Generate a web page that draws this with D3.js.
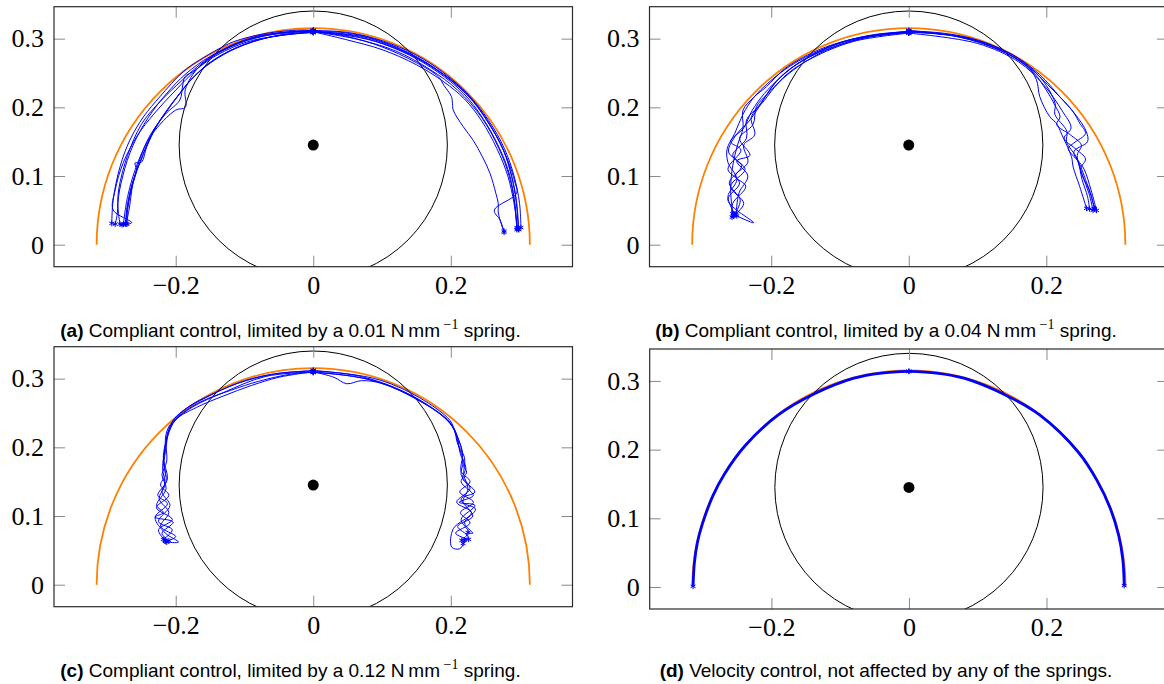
<!DOCTYPE html>
<html>
<head>
<meta charset="utf-8">
<script src="https://cdn.jsdelivr.net/npm/d3@7"></script>
<style>
  body { margin: 0; background: #fff; }
  svg { display: block; }
  .tick line { stroke: #8a8a8a; stroke-width: 1; }
  .caption { font-family: "Liberation Sans", Arial, sans-serif; font-size: 19px; fill: #000; white-space: pre; }
</style>
</head>
<body>
<svg id="chart" width="1164" height="684"></svg>
<script>
// axis setup, same for all four plots
var xDomain = [-0.377, 0.377];
var yDomain = [-0.032, 0.3465];
var xTicks = [-0.2, 0, 0.2];
var yTicks = [0, 0.1, 0.2, 0.3];

// reference path (orange half circle) and the obstacle circle
var refRadius = 0.315;
var obstacleCentre = [0, 0.145];
var obstacleRadius = 0.195;

var captionTags = ["(a)", "(b)", "(c)", "(d)"];
var captionBodies = [
    " Compliant control, limited by a 0.01 N\u2009mm",
    " Compliant control, limited by a 0.04 N\u2009mm",
    " Compliant control, limited by a 0.12 N\u2009mm",
    " Velocity control, not affected by any of the springs."
];
var captionExponents = ["\u22121", "\u22121", "\u22121", ""];
var captionTails = [" spring.", " spring.", " spring.", ""];

// measured trajectories, each runs from the top waypoint to an end point
var pathsA = [
    [[0,0.312],[-0.019,0.3125],[-0.068,0.3077],[-0.116,0.2955],[-0.1405,0.2834],[-0.165,0.269],[-0.189,0.252],[-0.223,0.2155],[-0.247,0.186],[-0.2666,0.1524],[-0.281,0.1135],[-0.291,0.065],[-0.293,0.031]],
    [[0,0.311],[-0.05,0.308],[-0.10,0.297],[-0.15,0.274],[-0.185,0.249],[-0.215,0.218],[-0.240,0.185],[-0.262,0.145],[-0.277,0.10],[-0.284,0.06],[-0.281,0.03]],
    [[0,0.309],[-0.04,0.306],[-0.08,0.298],[-0.12,0.283],[-0.150,0.265],[-0.178,0.240],[-0.194,0.220],[-0.2085,0.201],[-0.228,0.172],[-0.242,0.1427],[-0.250,0.120],[-0.259,0.119],[-0.257,0.109],[-0.264,0.0845],[-0.270,0.055],[-0.2725,0.030]],
    [[0,0.309],[-0.045,0.305],[-0.085,0.297],[-0.122,0.282],[-0.152,0.264],[-0.179,0.239],[-0.195,0.219],[-0.209,0.2],[-0.229,0.171],[-0.243,0.142],[-0.251,0.121],[-0.258,0.105],[-0.265,0.083],[-0.271,0.054],[-0.273,0.031]],
    [[0,0.31],[-0.05,0.305],[-0.1,0.291],[-0.14,0.271],[-0.172,0.246],[-0.196,0.218],[-0.212,0.197],[-0.23,0.17],[-0.244,0.141],[-0.252,0.12],[-0.259,0.1],[-0.266,0.075],[-0.27,0.05],[-0.271,0.03]],
    [[0,0.312],[-0.06,0.307],[-0.11,0.293],[-0.145,0.275],[-0.17,0.255],[-0.20,0.225],[-0.232,0.19],[-0.255,0.16],[-0.276,0.12],[-0.288,0.08],[-0.291,0.0505],[-0.264,0.032],[-0.278,0.029]],
    [[0,0.311],[-0.07,0.304],[-0.12,0.288],[-0.165,0.26],[-0.186,0.226],[-0.186,0.200],[-0.20,0.196],[-0.235,0.16],[-0.255,0.12],[-0.27,0.07],[-0.276,0.03]],
    [[0,0.312],[-0.08,0.304],[-0.13,0.285],[-0.16,0.266],[-0.19,0.24],[-0.226,0.205],[-0.25,0.175],[-0.27,0.13],[-0.283,0.08],[-0.285,0.045],[-0.288,0.03]],
    [[0,0.31],[-0.09,0.297],[-0.14,0.276],[-0.175,0.252],[-0.1866,0.2446],[-0.19,0.231],[-0.194,0.2107],[-0.215,0.19],[-0.238,0.158],[-0.252,0.125],[-0.262,0.09],[-0.268,0.05],[-0.272,0.031]],
    [[0,0.312],[0.05,0.309],[0.10,0.297],[0.15,0.276],[0.19,0.250],[0.225,0.219],[0.255,0.181],[0.278,0.140],[0.292,0.10],[0.300,0.06],[0.302,0.025]],
    [[0,0.309],[0.029,0.310],[0.0777,0.3028],[0.1407,0.2786],[0.1843,0.252],[0.2231,0.2204],[0.2522,0.1815],[0.2764,0.1378],[0.2886,0.099],[0.2948,0.0651],[0.2982,0.0224]],
    [[0,0.31],[0.035,0.308],[0.08,0.301],[0.142,0.277],[0.186,0.25],[0.224,0.218],[0.253,0.18],[0.277,0.137],[0.289,0.098],[0.2955,0.064],[0.299,0.022]],
    [[0,0.31],[0.04,0.306],[0.09,0.296],[0.14,0.276],[0.18,0.252],[0.218,0.221],[0.248,0.182],[0.272,0.138],[0.286,0.1],[0.293,0.06],[0.296,0.022]],
    [[0,0.31],[0.06,0.300],[0.12,0.282],[0.17,0.255],[0.21,0.225],[0.245,0.185],[0.27,0.14],[0.285,0.10],[0.293,0.06],[0.296,0.025]],
    [[0,0.311],[0.05,0.303],[0.10,0.288],[0.15,0.265],[0.182,0.2446],[0.190,0.232],[0.201,0.2155],[0.2025,0.205],[0.2035,0.196],[0.218,0.172],[0.2326,0.152],[0.246,0.128],[0.257,0.104],[0.2655,0.075],[0.269,0.060],[0.2692,0.046],[0.2775,0.018]],
    [[0,0.311],[0.07,0.302],[0.14,0.277],[0.19,0.247],[0.23,0.212],[0.26,0.17],[0.282,0.125],[0.2935,0.09],[0.2958,0.0748],[0.2633,0.0505],[0.2716,0.036],[0.2774,0.020]],
    [[0,0.31],[0.05,0.298],[0.10,0.284],[0.15,0.262],[0.19,0.237],[0.22,0.212],[0.245,0.18],[0.267,0.14],[0.283,0.1],[0.292,0.06],[0.297,0.024]]
];

var pathsB = [
    [[0,0.310],[-0.05,0.306],[-0.10,0.294],[-0.15,0.273],[-0.18,0.255],[-0.205,0.235],[-0.225,0.215],[-0.241,0.19],[-0.253,0.162],[-0.264,0.14],[-0.263,0.12],[-0.250,0.095],[-0.263,0.07],[-0.253,0.045]],
    [[0,0.309],[-0.07,0.300],[-0.13,0.28],[-0.17,0.258],[-0.195,0.235],[-0.212,0.2106],[-0.22,0.20],[-0.236,0.1815],[-0.236,0.155],[-0.256,0.13],[-0.238,0.11],[-0.259,0.085],[-0.24,0.06],[-0.255,0.042]],
    [[0,0.308],[-0.08,0.296],[-0.14,0.272],[-0.175,0.25],[-0.1997,0.2252],[-0.207,0.218],[-0.2215,0.201],[-0.2265,0.175],[-0.246,0.155],[-0.231,0.13],[-0.25,0.122],[-0.234,0.10],[-0.247,0.075],[-0.251,0.044]],
    [[0.0,0.311],[-0.05,0.305],[-0.11,0.29],[-0.155,0.268],[-0.185,0.245],[-0.21,0.22],[-0.228,0.195],[-0.24,0.17],[-0.259,0.15],[-0.244,0.138],[-0.263,0.11],[-0.246,0.09],[-0.263,0.065],[-0.2255,0.032],[-0.250,0.042]],
    [[0,0.31],[-0.06,0.302],[-0.12,0.283],[-0.16,0.26],[-0.19,0.235],[-0.21,0.21],[-0.229,0.185],[-0.224,0.16],[-0.24,0.145],[-0.234,0.12],[-0.252,0.1],[-0.237,0.085],[-0.256,0.06],[-0.257,0.04]],
    [[0,0.31],[-0.07,0.302],[-0.12,0.288],[-0.155,0.272],[-0.183,0.254],[-0.207,0.230],[-0.225,0.215],[-0.241,0.196],[-0.241,0.17],[-0.249,0.145],[-0.256,0.115],[-0.259,0.08],[-0.256,0.045]],
    [[0,0.309],[-0.09,0.297],[-0.145,0.273],[-0.18,0.25],[-0.2,0.228],[-0.215,0.205],[-0.232,0.18],[-0.251,0.16],[-0.262,0.135],[-0.243,0.115],[-0.261,0.09],[-0.245,0.065],[-0.254,0.043]],
    [[0,0.311],[0.05,0.308],[0.10,0.298],[0.15,0.277],[0.18,0.255],[0.20,0.232],[0.213,0.205],[0.2124,0.19],[0.23,0.165],[0.2294,0.15],[0.245,0.125],[0.252,0.095],[0.26,0.07],[0.263,0.052]],
    [[0,0.309],[0.06,0.305],[0.12,0.288],[0.17,0.262],[0.1857,0.24],[0.1905,0.2155],[0.2051,0.1863],[0.2148,0.1767],[0.2227,0.16],[0.2367,0.128],[0.239,0.1135],[0.2487,0.0844],[0.2585,0.053]],
    [[0,0.31],[0.07,0.303],[0.13,0.285],[0.175,0.258],[0.21,0.225],[0.238,0.195],[0.2487,0.1767],[0.257,0.162],[0.24,0.148],[0.232,0.14],[0.247,0.12],[0.257,0.095],[0.266,0.07],[0.27,0.052]],
    [[0,0.312],[0.08,0.302],[0.14,0.28],[0.18,0.252],[0.2,0.225],[0.2124,0.2034],[0.22,0.186],[0.215,0.175],[0.235,0.16],[0.251,0.145],[0.245,0.13],[0.253,0.1],[0.262,0.075],[0.268,0.05]],
    [[0,0.311],[0.09,0.3],[0.15,0.277],[0.19,0.248],[0.22,0.215],[0.242,0.19],[0.258,0.165],[0.26,0.15],[0.24,0.135],[0.255,0.11],[0.265,0.08],[0.273,0.05]],
    [[0,0.308],[0.1,0.293],[0.16,0.266],[0.196,0.233],[0.223,0.195],[0.236,0.17],[0.226,0.155],[0.242,0.14],[0.257,0.125],[0.25,0.11],[0.262,0.08],[0.27,0.053]]
];

var pathsC = [
    [[0,0.311],[-0.05,0.308],[-0.1,0.297],[-0.15,0.276],[-0.18,0.26],[-0.2036,0.239],[-0.2133,0.2222],[-0.2157,0.198],[-0.218,0.1785],[-0.215,0.16],[-0.222,0.145],[-0.21,0.13],[-0.228,0.112],[-0.205,0.095],[-0.225,0.08],[-0.2157,0.0645]],
    [[0,0.309],[-0.03,0.307],[-0.08,0.296],[-0.12,0.283],[-0.16,0.268],[-0.19,0.25],[-0.208,0.23],[-0.214,0.2],[-0.217,0.175],[-0.214,0.15],[-0.226,0.13],[-0.212,0.118],[-0.230,0.098],[-0.215,0.075],[-0.196,0.062],[-0.213,0.062]],
    [[0,0.31],[-0.05,0.302],[-0.09,0.29],[-0.13,0.275],[-0.17,0.258],[-0.2,0.24],[-0.212,0.215],[-0.218,0.185],[-0.212,0.155],[-0.22,0.135],[-0.2084,0.1154],[-0.225,0.092],[-0.205,0.08],[-0.218,0.066]],
    [[0,0.312],[-0.06,0.306],[-0.11,0.293],[-0.155,0.273],[-0.19,0.253],[-0.205,0.237],[-0.214,0.21],[-0.213,0.18],[-0.22,0.16],[-0.214,0.14],[-0.2278,0.1154],[-0.218,0.105],[-0.2303,0.0984],[-0.2036,0.0911],[-0.22,0.075],[-0.21,0.064]],
    [[0,0.31],[-0.07,0.303],[-0.13,0.28],[-0.175,0.259],[-0.2,0.24],[-0.21,0.225],[-0.216,0.195],[-0.219,0.17],[-0.216,0.145],[-0.224,0.125],[-0.21,0.105],[-0.222,0.085],[-0.2,0.07],[-0.215,0.063]],
    [[0,0.311],[0.05,0.307],[0.1,0.297],[0.155,0.272],[0.199,0.239],[0.2061,0.2222],[0.2159,0.198],[0.2182,0.1737],[0.2231,0.164],[0.215,0.15],[0.2327,0.13],[0.212,0.12],[0.2352,0.1154],[0.215,0.095],[0.2255,0.0766],[0.2159,0.0645]],
    [[0,0.31],[0.03,0.302],[0.0486,0.2926],[0.07,0.297],[0.1,0.293],[0.15,0.27],[0.19,0.244],[0.205,0.225],[0.212,0.2],[0.218,0.18],[0.215,0.16],[0.228,0.14],[0.2086,0.1202],[0.23,0.105],[0.2036,0.0815],[0.2013,0.0547],[0.2133,0.0524],[0.22,0.065]],
    [[0,0.309],[0.06,0.303],[0.11,0.29],[0.16,0.265],[0.195,0.24],[0.208,0.22],[0.214,0.19],[0.222,0.17],[0.217,0.155],[0.235,0.135],[0.215,0.125],[0.232,0.1],[0.21,0.085],[0.225,0.07],[0.218,0.06]],
    [[0,0.312],[0.07,0.303],[0.13,0.282],[0.175,0.256],[0.2,0.235],[0.21,0.215],[0.217,0.19],[0.215,0.165],[0.228,0.15],[0.213,0.135],[0.233,0.12],[0.214,0.105],[0.228,0.09],[0.207,0.075],[0.226,0.066]],
    [[0,0.31],[0.08,0.299],[0.14,0.276],[0.185,0.248],[0.204,0.228],[0.21,0.205],[0.22,0.185],[0.219,0.16],[0.225,0.14],[0.218,0.12],[0.236,0.11],[0.22,0.09],[0.232,0.075],[0.225,0.076]]
];

var pathsD = [
    [[0,0.314],[-0.04,0.3115],[-0.08,0.304],[-0.1375,0.2813],[-0.19,0.2505],[-0.238,0.206],[-0.268,0.165],[-0.285,0.133],[-0.3,0.093],[-0.3076,0.065],[-0.312,0.035],[-0.3139,0.001]],
    [[0,0.314],[0.04,0.3115],[0.08,0.304],[0.1395,0.2799],[0.19,0.2505],[0.2464,0.1962],[0.273,0.156],[0.293,0.114],[0.305,0.075],[0.311,0.04],[0.313,0.002]]
];

// layout of the four sub-figures
var plotW = 518.5, plotH = 260, tickLen = 11;
var panels = [
    { id: "a", left: 54,    top: 6.7,   paths: pathsA, lineWidth: 1, capX: 290.5, capY: 337 },
    { id: "b", left: 649.5, top: 6.7,   paths: pathsB, lineWidth: 1, capX: 886,   capY: 337 },
    { id: "c", left: 54,    top: 346.7, paths: pathsC, lineWidth: 1, capX: 290.5, capY: 677 },
    { id: "d", left: 649.7, top: 349,   paths: pathsD, lineWidth: 2.8, capX: 886,   capY: 677 }
];

var svg = d3.select("#chart");

var x = d3.scaleLinear().domain(xDomain).range([0, plotW]);
var y = d3.scaleLinear().domain(yDomain).range([plotH, 0]);

var trialLine = d3.line()
    .x(d => x(d[0]))
    .y(d => y(d[1]))
    .curve(d3.curveCatmullRom.alpha(0.5));

var tickLabel = d => d === 0 ? "0" : d3.format(".1f")(d);
var star = d3.symbol().type(d3.symbolAsterisk || d3.symbolCross).size(22);

panels.forEach((p, i) => {
    var g = svg.append("g").attr("transform", "translate(" + p.left + "," + p.top + ")");

    var clipId = "clip-" + p.id;
    g.append("clipPath").attr("id", clipId)
        .append("rect").attr("width", plotW).attr("height", plotH);

    var plot = g.append("g").attr("clip-path", "url(#" + clipId + ")");

    // orange reference half circle
    var ref = d3.path();
    ref.arc(x(0), y(0), x(refRadius) - x(0), Math.PI, 2 * Math.PI);
    plot.append("path")
        .attr("d", ref.toString())
        .attr("fill", "none")
        .attr("stroke", "#ff7f00")
        .attr("stroke-width", 1.8);

    // obstacle
    plot.append("circle")
        .attr("cx", x(obstacleCentre[0]))
        .attr("cy", y(obstacleCentre[1]))
        .attr("r", x(obstacleRadius) - x(0))
        .attr("fill", "none")
        .attr("stroke", "#000")
        .attr("stroke-width", 1);

    plot.append("circle")
        .attr("cx", x(obstacleCentre[0]))
        .attr("cy", y(obstacleCentre[1]))
        .attr("r", 5.5)
        .attr("fill", "#000");

    plot.selectAll(".trial")
        .data(p.paths)
        .join("path")
        .classed("trial", true)
        .attr("d", trialLine)
        .attr("fill", "none")
        .attr("stroke", "#0000ff")
        .attr("stroke-width", p.lineWidth)
        .attr("stroke-linejoin", "round");

    var ends = p.paths.flatMap(path => [path[0], path[path.length - 1]]);
    plot.selectAll(".mark")
        .data(ends)
        .join("path")
        .classed("mark", true)
        .attr("transform", d => "translate(" + x(d[0]) + "," + y(d[1]) + ")")
        .attr("d", star)
        .attr("fill", "none")
        .attr("stroke", "#0000ff")
        .attr("stroke-width", 1);

    // ticks on all four sides, pointing inwards
    g.append("g")
        .attr("transform", "translate(0," + plotH + ")")
        .call(d3.axisBottom(x).tickValues(xTicks).tickSize(-tickLen).tickPadding(9).tickFormat(tickLabel))
        .call(a => a.select(".domain").remove());
    g.append("g")
        .call(d3.axisTop(x).tickValues(xTicks).tickSize(-tickLen).tickFormat(""))
        .call(a => a.select(".domain").remove());
    g.append("g")
        .call(d3.axisLeft(y).tickValues(yTicks).tickSize(-tickLen).tickPadding(10).tickFormat(tickLabel))
        .call(a => a.select(".domain").remove());
    g.append("g")
        .attr("transform", "translate(" + plotW + ",0)")
        .call(d3.axisRight(y).tickValues(yTicks).tickSize(-tickLen).tickFormat(""))
        .call(a => a.select(".domain").remove());

    g.selectAll(".tick text")
        .attr("font-family", "Liberation Serif")
        .attr("font-size", 26)
        .attr("fill", "#000");

    g.append("rect")
        .attr("width", plotW)
        .attr("height", plotH)
        .attr("fill", "none")
        .attr("stroke", "#2b2b2b")
        .attr("stroke-width", 1.2);

    // caption
    var cap = svg.append("text")
        .attr("class", "caption")
        .attr("x", p.capX)
        .attr("y", p.capY)
        .attr("text-anchor", "middle");
    cap.append("tspan").attr("font-weight", "bold").text(captionTags[i]);
    cap.append("tspan").text(captionBodies[i]);
    if (captionExponents[i]) {
        cap.append("tspan")
            .attr("font-family", "Liberation Serif, serif")
            .attr("font-size", 14)
            .attr("dy", -8)
            .text(" " + captionExponents[i]);
        cap.append("tspan").attr("dy", 8).text(captionTails[i]);
    }
});
</script>
</body>
</html>
